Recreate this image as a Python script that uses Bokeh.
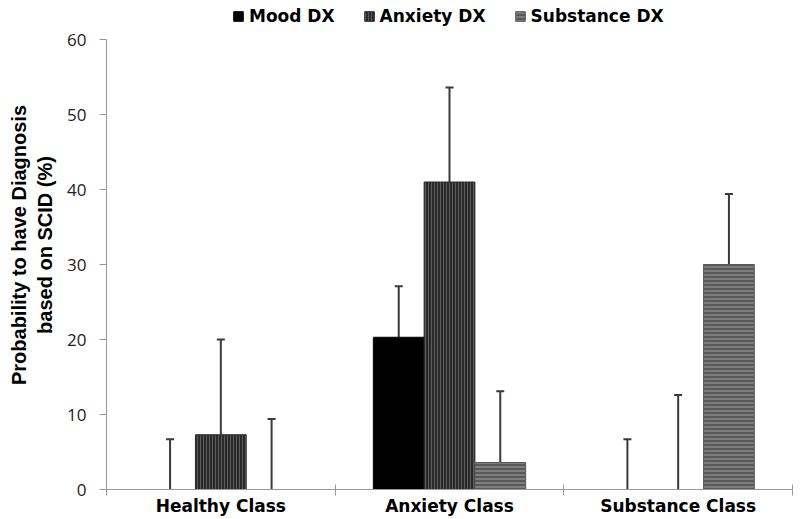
from bokeh.plotting import figure
from bokeh.models import (Range1d, FixedTicker, Whisker, TeeHead, ColumnDataSource,
                          Legend, LegendItem)
from bokeh.embed import file_html
from bokeh.resources import INLINE

# ---- data ----
categories = ["Healthy Class", "Anxiety Class", "Substance Class"]
series = ["Mood DX", "Anxiety DX", "Substance DX"]
mood = [0.0, 20.3, 0.0]
anxiety = [7.3, 41.0, 0.0]
substance = [0.0, 3.6, 30.0]
mood_err = [6.7, 6.8, 6.7]
anxiety_err = [12.7, 12.6, 12.6]
substance_err = [9.4, 9.5, 9.4]
y_ticks = [0, 10, 20, 30, 40, 50, 60]
y_title = "Probability to have Diagnosis\nbased on SCID (%)"

values = [mood, anxiety, substance]
errors = [mood_err, anxiety_err, substance_err]

# ---- layout / styles ----
frame_h = 489          # frame reaches the top of the page; axis stops at 60
axis_h = 450           # pixel height of the 0..60 axis
y_max = y_ticks[-1] * frame_h / axis_h
bar_w = 0.222
offsets = [-bar_w, 0.0, bar_w]
styles = [
    dict(fill_color="#000000", line_color="#000000"),
    dict(fill_color="#2a2a2a", line_color="#2a2a2a", hatch_pattern="vertical_line",
         hatch_color="#5c5c5c", hatch_scale=3, hatch_weight=1),
    dict(fill_color="#595959", line_color="#595959", hatch_pattern="horizontal_line",
         hatch_color="#a0a0a0", hatch_scale=4, hatch_weight=1),
]

p = figure(frame_width=686, frame_height=frame_h, output_backend="svg", toolbar_location=None,
           x_range=Range1d(0, len(categories)), y_range=Range1d(0, y_max),
           min_border_left=106, min_border_top=0, min_border_bottom=30,
           min_border_right=8)
p.outline_line_color = None
p.xgrid.visible = False
p.ygrid.visible = False
p.background_fill_color = "white"

renderers = []
for k in range(3):
    xs = [i + 0.5 + offsets[k] for i in range(len(categories))]
    src = ColumnDataSource(dict(x=xs, top=values[k],
                                upper=[v + e for v, e in zip(values[k], errors[k])],
                                lower=values[k]))
    r = p.vbar(x="x", top="top", bottom=0, width=bar_w, source=src, **styles[k])
    renderers.append((r, src))

for r, src in renderers:
    w = Whisker(base="x", upper="upper", lower="lower", source=src,
                line_color="#3a3a3a", line_width=2,
                upper_head=TeeHead(size=8, line_color="#3a3a3a", line_width=2),
                lower_head=None)
    p.add_layout(w)

# ---- axes ----
ax = p.xaxis[0]
ax.ticker = FixedTicker(ticks=[i + 0.5 for i in range(len(categories))],
                        minor_ticks=list(range(len(categories) + 1)))
ax.major_label_overrides = {i + 0.5: c for i, c in enumerate(categories)}
ax.major_tick_in = 0
ax.major_tick_out = 0
ax.minor_tick_in = 5
ax.minor_tick_out = 6
ax.minor_tick_line_color = "#999999"
ax.axis_line_color = "#999999"
ax.major_label_standoff = 0
ax.major_label_text_font = "DejaVu Sans"
ax.major_label_text_font_style = "bold"
ax.major_label_text_font_size = "17px"
ax.major_label_text_color = "#000000"

ay = p.yaxis[0]
ay.ticker = FixedTicker(ticks=y_ticks, minor_ticks=[])
ay.bounds = (y_ticks[0], y_ticks[-1])
ay.major_tick_in = 0
ay.major_tick_out = 7
ay.major_tick_line_color = "#999999"
ay.axis_line_color = "#999999"
ay.major_label_standoff = 13
ay.major_label_text_font = "Open Sans"
ay.major_label_text_font_size = "17px"
ay.major_label_text_color = "#222222"
ay.axis_label = y_title
ay.axis_label_text_font = "Liberation Sans"
ay.axis_label_text_font_style = "bold"
ay.axis_label_text_font_size = "20px"
ay.axis_label_text_color = "#000000"
ay.axis_label_standoff = 8

# ---- legend ----
legend = Legend(items=[LegendItem(label=s, renderers=[r]) for s, (r, _) in zip(series, renderers)],
                orientation="horizontal", location=(126, 463),
                glyph_width=12, glyph_height=12, label_standoff=5, spacing=28,
                padding=0, margin=0, border_line_color=None,
                background_fill_alpha=0,
                label_text_font="DejaVu Sans", label_text_font_style="bold",
                label_text_font_size="17px", label_text_color="#000000")
p.add_layout(legend)

open("out.html", "w").write(file_html(p, INLINE))
